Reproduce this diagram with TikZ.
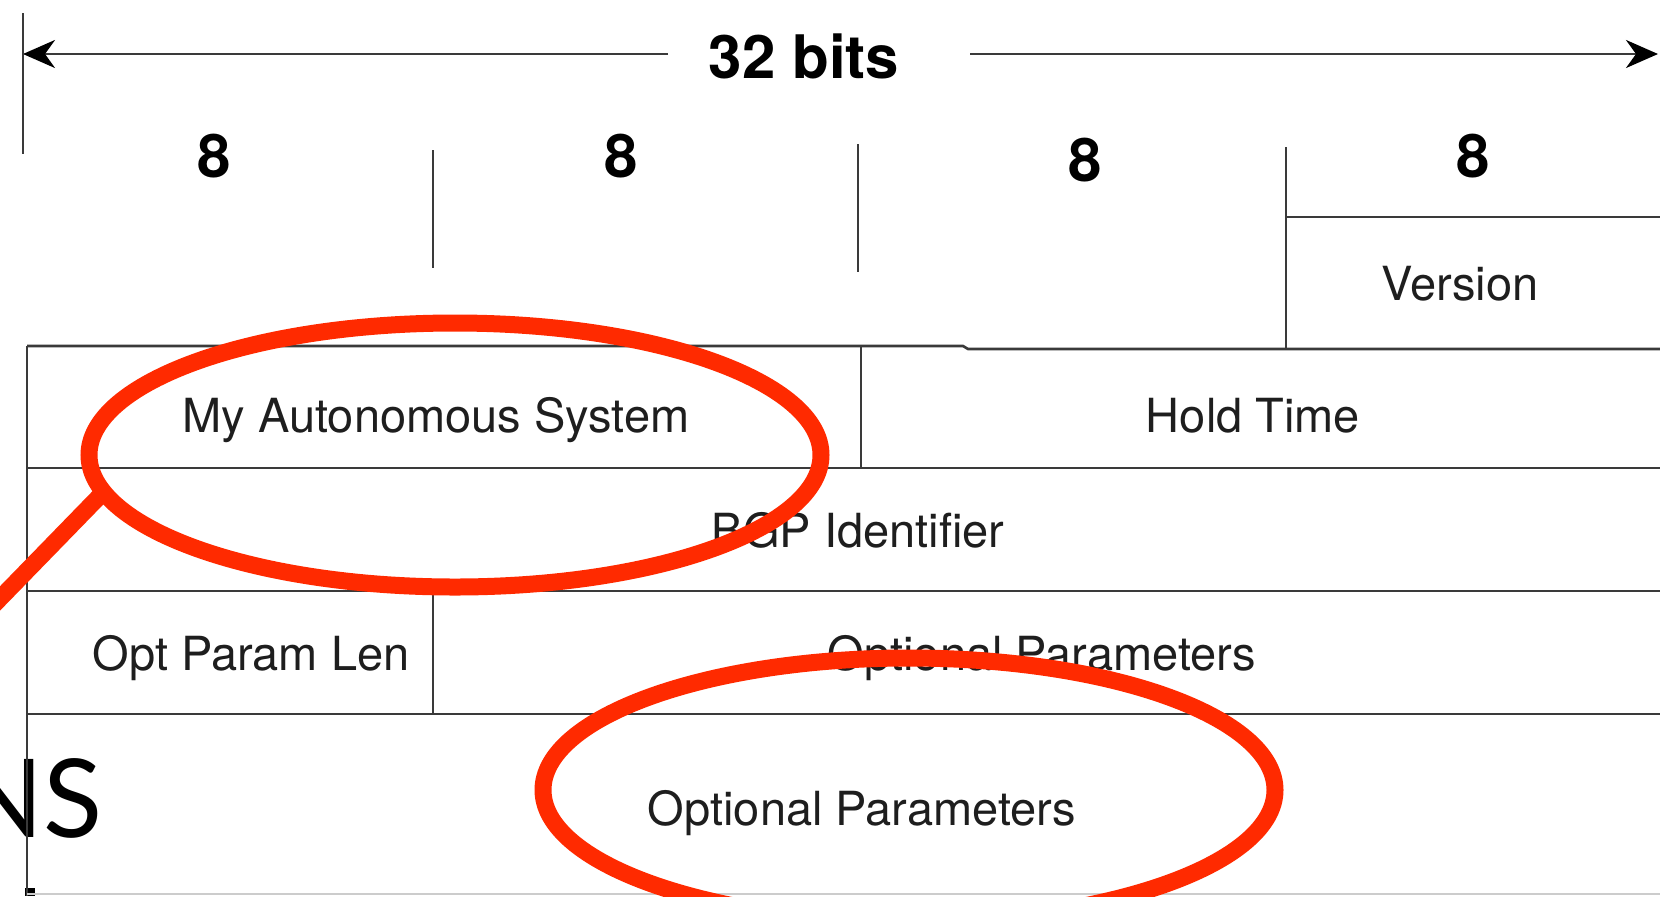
\documentclass[tikz,border=0pt]{standalone}
\usepackage{fontspec}
\setmainfont{TeX Gyre Heros}
\newfontfamily\nsfont{Lato}
\usetikzlibrary{arrows.meta,shapes.geometric}
\definecolor{ln}{HTML}{3A3A3A}
\definecolor{mark}{HTML}{FF2A00}
\definecolor{txt}{HTML}{1E1E1E}
\begin{document}
\begin{tikzpicture}[x=0.5pt,y=-0.5pt,
  fld/.style={inner sep=0pt, anchor=base, text=txt, font=\fontsize{23.5}{28}\selectfont},
  bits/.style={inner sep=0pt, anchor=base, text=black, font=\fontsize{30}{36}\selectfont\bfseries},
  grid/.style={draw=ln, line width=1.3pt},
  ring/.style={ellipse, draw=mark, line width=8.5pt, minimum width=366pt, minimum height=132pt, inner sep=0pt, outer sep=0pt},
  dim/.style={draw=ln, line width=1.3pt, -{Stealth[length=16pt,width=14pt,inset=5pt,color=black]}}]
\useasboundingbox (0,0) rectangle (1660,896);
\clip (0,0) rectangle (1660,896);
\fill[white] (0,0) rectangle (1660,896);
% slide title fragment
\node[inner sep=0pt, anchor=base east, font=\nsfont\fontsize{54.5}{60}\selectfont] (ns) at (103,837) {NS};
\fill[black] (25,888) rectangle (35,896);
% dimension arrow
\coordinate (la) at (668,54);
\coordinate (lt) at (23,54);
\coordinate (ra) at (970,54);
\coordinate (rt) at (1658,54);
\draw[dim] (la) -- (lt);
\draw[dim] (ra) -- (rt);
\node[bits] (title) at (804,78) {32 bits};
% ticks
\draw[grid] (23,13) -- (23,154);
\draw[grid] (433,150) -- (433,268);
\draw[grid] (858,144) -- (858,272);
\draw[grid] (1286,147) -- (1286,349);
\draw[grid] (1286,217) -- (1660,217);
% table
\draw[grid] (27,346) -- (963,346) -- (968,349) -- (1660,349);
\draw[grid] (861,346) -- (861,468);
\draw[grid] (27,468) -- (1660,468);
\draw[grid] (27,591) -- (1660,591);
\draw[grid] (433,591) -- (433,714);
\draw[grid] (27,714) -- (1660,714);
\draw[grid] (27,346) -- (27,896);
\draw[draw=gray!40, line width=0.8pt] (27,894) -- (1660,894);
% labels
\node[bits] (b1) at (214,177) {8};
\node[bits] (b2) at (621,177) {8};
\node[bits] (b3) at (1085,181) {8};
\node[bits] (b4) at (1473,177) {8};
\node[fld] (ver) at (1460,300) {Version};
\node[fld] (mas) at (436,432) {My Autonomous System};
\node[fld] (hold) at (1253,432) {Hold Time};
\node[fld] (bgp) at (858,547) {BGP Identifier};
\node[fld] (opl) at (251,670) {Opt Param Len};
\node[fld] (op1) at (1042,670) {Optional Parameters};
\node[fld] (op2) at (862,825) {Optional Parameters};
% red annotations
\node[ring] (e1) at (455,455) {};
\node[ring] (e2) at (909,790) {};
\coordinate (tail) at (-20,619);
\draw[draw=mark, line width=8.5pt] (e1.186) -- (tail);
\end{tikzpicture}
\end{document}
